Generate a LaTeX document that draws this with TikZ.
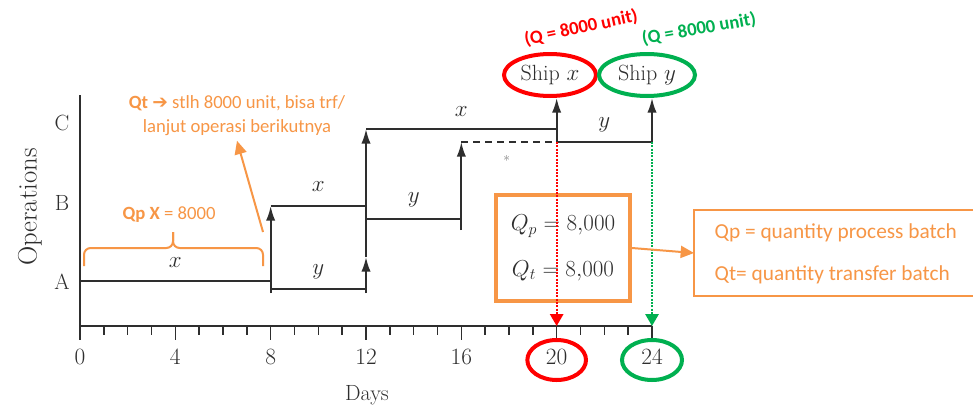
\documentclass[tikz,border=0pt]{standalone}
\usepackage{fontspec}
\newfontfamily\calibri{Carlito}
\newfontfamily\symfont{DejaVu Sans}
\usetikzlibrary{arrows.meta,positioning,calc,shapes.geometric}

\definecolor{qorange}{HTML}{F79646}
\definecolor{shipred}{HTML}{FF0000}
\definecolor{shipgreen}{HTML}{00B050}
\definecolor{ink}{HTML}{2E2E2E}

\tikzset{
  chart/.style={draw=ink, line width=1.5pt},
  transfer/.style={chart, -{Latex[length=11pt,width=7pt]}},
  serif/.style={text=ink, font=\fontsize{16.5}{18}\selectfont},
  orangenote/.style={text=qorange, font=\calibri\fontsize{16}{18}\selectfont},
  ring/.style={ellipse, line width=3pt, inner sep=0pt},
  shipto/.style={line width=1.5pt, densely dotted, -{Triangle[length=9pt,width=10pt]}},
  pointer/.style={qorange, line width=1.5pt, -{Triangle[length=10pt,width=9pt]}},
}

\begin{document}
\begin{tikzpicture}[x=0.75pt, y=-0.75pt]
  \useasboundingbox (0,0) rectangle (973,407);
  \fill[white] (0,0) rectangle (973,407);

  % axes
  \coordinate (o) at (80,326);
  \coordinate (top) at (80,95);
  \coordinate (end) at (652,326);
  \draw[chart] (top) -- (o) -- (end);
  \node[serif, font=\fontsize{20}{22}\selectfont, rotate=90] (ops) at (30,207) {Operations};
  \node[serif] (la) at (62,282) {A};
  \node[serif] (lb) at (62,203) {B};
  \node[serif] (lc) at (62,123) {C};
  \node[serif] (days) at (367,395) {Days};

  \begin{scope}[x=17.875pt, xshift=60pt]
    % day ticks
    \foreach \d in {0,...,24}
      \draw[chart, line width=1.2pt] (\d,326) -- (\d,335);
    \foreach \d in {0,4,...,24} {
      \draw[chart, line width=1.2pt] (\d,326) -- (\d,340);
      \node[serif, font=\fontsize{17.5}{18}\selectfont] (t\d) at (\d,357) {\d};
    }

    % operation A
    \draw[chart] (0,281) -- (8,281);
    \node[serif] (ax) at (4,263) {$x$};
    \draw[chart] (8,289) -- (12,289);
    \node[serif] (ay) at (10,272) {$y$};
    % operation B
    \draw[chart] (8,206) -- (12,206);
    \node[serif] (bx) at (10,187) {$x$};
    \draw[chart] (12,219) -- (16,219);
    \node[serif] (by) at (14,200) {$y$};
    % operation C
    \draw[chart] (12,129) -- (20,129);
    \node[serif] (cx) at (16,112) {$x$};
    \draw[chart, dash pattern=on 5pt off 4pt] (16,142) -- (20,142);
    \draw[chart] (20,142) -- (24,142);
    \node[serif] (cy) at (22,125) {$y$};
    \node[text=gray, font=\normalsize] (star) at (17.9,160) {*};

    % transfers between operations
    \draw[transfer] (8,293) -- (8,206);
    \draw[transfer] (12,293) -- (12,257);
    \draw[transfer] (12,257) -- (12,129);
    \draw[transfer] (16,230) -- (16,142);
    \coordinate (dx) at (20,142);
    \coordinate (dy) at (24,142);
  \end{scope}

  % shipments
  \node[ring, draw=shipred, minimum width=69pt, minimum height=31.5pt, serif] (shipx) at (550,75) {Ship $x$};
  \node[ring, draw=shipgreen, minimum width=72pt, minimum height=31.5pt, serif] (shipy) at (647,75) {Ship $y$};
  \draw[transfer] (dx) -- (dx |- shipx.south);
  \draw[transfer] (dy) -- (dy |- shipy.south);
  \node[font=\calibri\bfseries\fontsize{14}{16}\selectfont, text=shipred, rotate=12] (qx) at (581,28) {(Q = 8000 unit)};
  \node[font=\calibri\bfseries\fontsize{14}{16}\selectfont, text=shipgreen, rotate=10] (qy) at (699,29) {(Q = 8000 unit)};

  % batch sizes
  \node[draw=qorange, line width=3pt, minimum width=100.5pt, minimum height=79.5pt, serif, font=\fontsize{17}{34}\selectfont, align=center] (qbox) at (563,248) {$Q_p = 8{,}000$\\$Q_t = 8{,}000$};

  % shipping days
  \node[ring, draw=shipred, minimum width=44pt, minimum height=30pt] (r20) at ($(t20)+(0,3)$) {};
  \node[ring, draw=shipgreen, minimum width=45pt, minimum height=30pt] (r24) at ($(t24)+(0,3)$) {};
  \draw[shipto, shipred] (dx) -- (dx |- o);
  \draw[shipto, shipgreen] (dy) -- (dy |- o);

  % notes
  \node[orangenote, font=\calibri\fontsize{14}{18}\selectfont, align=center] (qtnote) at (237,116) {\textbf{Qt} {\symfont\bfseries ➔} stlh 8000 unit, bisa trf/\\lanjut operasi berikutnya};
  \coordinate (qtfrom) at (263,232);
  \draw[pointer] (qtfrom) -- (qtnote.south);

  \node[orangenote, font=\calibri\fontsize{14}{16}\selectfont] (qpnote) at (169,215) {\textbf{Qp X} = 8000};
  \draw[qorange, line width=1.5pt, rounded corners=5pt] (84,266) -- (84,248) -- (173,248) -- (173,232);
  \draw[qorange, line width=1.5pt, rounded corners=5pt] (263,266) -- (263,248) -- (173,248) -- (173,232);

  \node[orangenote, font=\calibri\fontsize{16}{31.5}\selectfont, align=left, anchor=west] (defs) at (710,254) {Qp = quantity process batch\\Qt= quantity transfer batch};
  \draw[qorange, line width=1pt] (973,210) -| (694,296) -- (973,296);
  \coordinate (frame) at (694,253);
  \draw[pointer] (qbox.east) -- (frame);
\end{tikzpicture}
\end{document}
